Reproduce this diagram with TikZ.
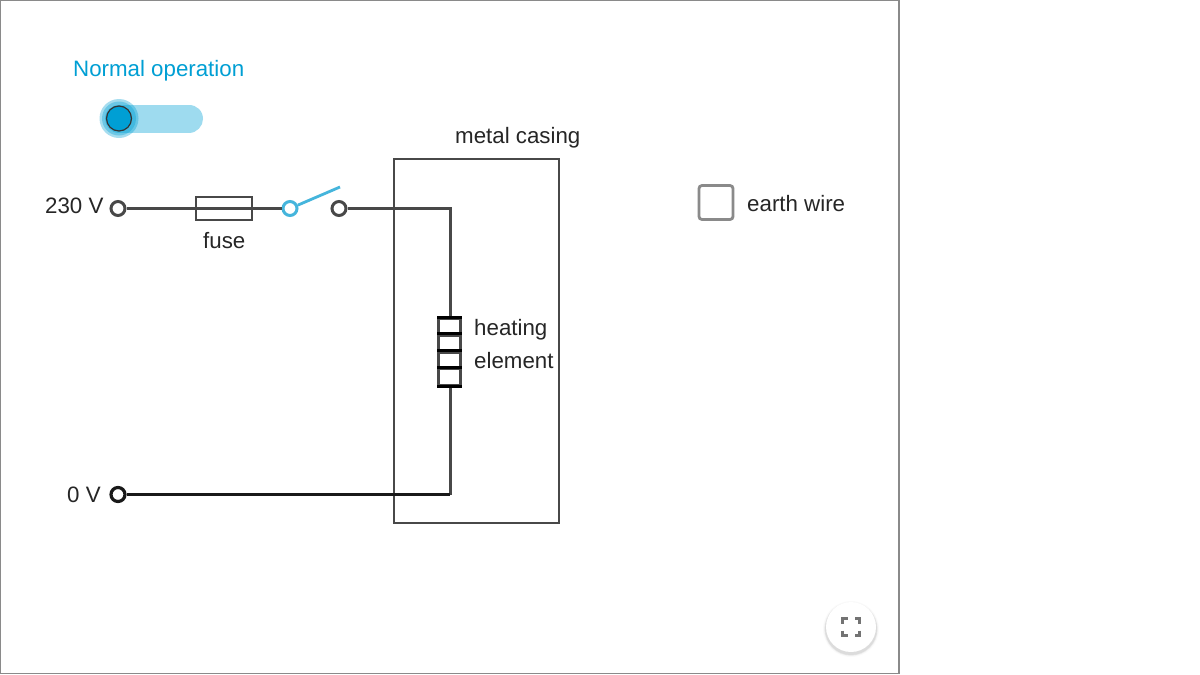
\documentclass[tikz,border=0pt]{standalone}
\usepackage{fontspec}
\setmainfont{Liberation Sans}
\usepackage{xcolor}
\usetikzlibrary{calc}
\definecolor{linecolor}{HTML}{009FD4}
\definecolor{armcolor}{HTML}{45B5DC}
\definecolor{wirecolor}{HTML}{484848}
\definecolor{framecolor}{HTML}{8A8A8A}
\tikzset{
  wire/.style={draw=wirecolor,line width=3pt},
  terminal/.style={circle,draw=wirecolor,fill=white,line width=3pt,inner sep=0pt,minimum size=14pt},
  label/.style={inner sep=0pt,font=\fontsize{22.3}{24}\selectfont,text=black!85},
  coil/.style={draw=wirecolor,fill=white,line width=2.8pt,minimum width=22pt,minimum height=16.5pt,inner sep=0pt}
}
\begin{document}
\begin{tikzpicture}[x=1pt,y=-1pt]
\useasboundingbox (0,0) rectangle (1200,675);
\fill[white] (0,0) rectangle (1200,675);
   %% outer frame
   \draw[framecolor,line width=1.2pt] (0.5,0.5) rectangle (899,673.5);
   %% toggle
   \draw[linecolor!38,line width=28pt,line cap=round] (119,118.5) -- (189,118.5);
   \fill[linecolor,opacity=0.35] (119,118.5) circle (19.5pt);
   \fill[linecolor,opacity=0.35] (119,118.5) circle (17pt);
   \node[circle,draw=black!80,fill=linecolor,line width=1.2pt,inner sep=0pt,minimum size=25pt] (knob) at (119,118.5) {};
   \node[label,text=linecolor,anchor=base west] (mode) at (73,76.5) {Normal operation};
   %% casing
   \node[draw=wirecolor,line width=2.7pt,inner sep=0pt,minimum width=165pt,minimum height=364pt] (casing) at (476.5,341) {};
   \node[label,anchor=base west] (casinglabel) at (455,143) {metal casing};
   %% circuit
   \coordinate (top) at (450,208.5);
   \coordinate (bottom) at (450,494.5);
   \node[terminal] (live) at (118,208.5) {};
   \node[terminal,draw=black!90,line width=3.2pt] (neutral) at (118,494.5) {};
   \node[terminal,draw=armcolor,line width=3pt] (pivot) at (290,208.5) {};
   \node[terminal] (contact) at (339,208.5) {};
   \coordinate (armend) at (340,187);
   \draw[wire] (live) -- (pivot);
   \node[draw=wirecolor,line width=2.8pt,inner sep=0pt,minimum width=56pt,minimum height=23pt] (fuse) at (224,208.5) {};
   \draw[wire] (fuse.west) -- (fuse.east);
   \draw[armcolor,line width=2.8pt] (pivot) -- (armend);
   \draw[wire,line join=miter] (contact) -- (top) -- (bottom);
   \draw[black!90,line width=3pt,line cap=square] (neutral) -- (bottom);
   %% heating element
   \foreach \n/\y in {1/327,2/343.5,3/360.5,4/377}
     \node[coil] (coil\n) at (449.5,\y) {};
   \foreach \n in {1,2,3,4}
     \draw[black,line width=3pt] (coil\n.north west) -- (coil\n.north east);
   \draw[black,line width=3pt] (coil4.south west) -- (coil4.south east);
   %% labels
   \node[label,anchor=base west] (livelabel) at (45,213) {230 V};
   \node[label,anchor=base west] (neutrallabel) at (67,502) {0 V};
   \node[label,anchor=base west] (fuselabel) at (203,248) {fuse};
   \node[label,anchor=base west] (heating) at (474,335) {heating};
   \node[label,anchor=base west] (element) at (474,368) {element};
   %% checkbox
   \node[draw=framecolor,fill=white,line width=2.8pt,rounded corners=3pt,inner sep=0pt,minimum width=34pt,minimum height=34pt] (check) at (716,202.5) {};
   \node[label,anchor=base west] (earth) at (747,211) {earth wire};
   %% fullscreen button
   \foreach \r/\o in {28/0.02,27/0.03,26.5/0.04,26/0.05}
     \fill[black,opacity=\o] (851,629) circle (\r pt);
   \node[circle,fill=white,inner sep=0pt,minimum size=50pt] (button) at (851,627) {};
   \foreach \sx/\sy in {-1/-1,1/-1,-1/1,1/1}
     \draw[black!55,line width=3.4pt] ($(button)+(\sx*8.5,\sy*3.5)$) -- ($(button)+(\sx*8.5,\sy*8.5)$) -- ($(button)+(\sx*3.5,\sy*8.5)$);
\end{tikzpicture}
\end{document}
